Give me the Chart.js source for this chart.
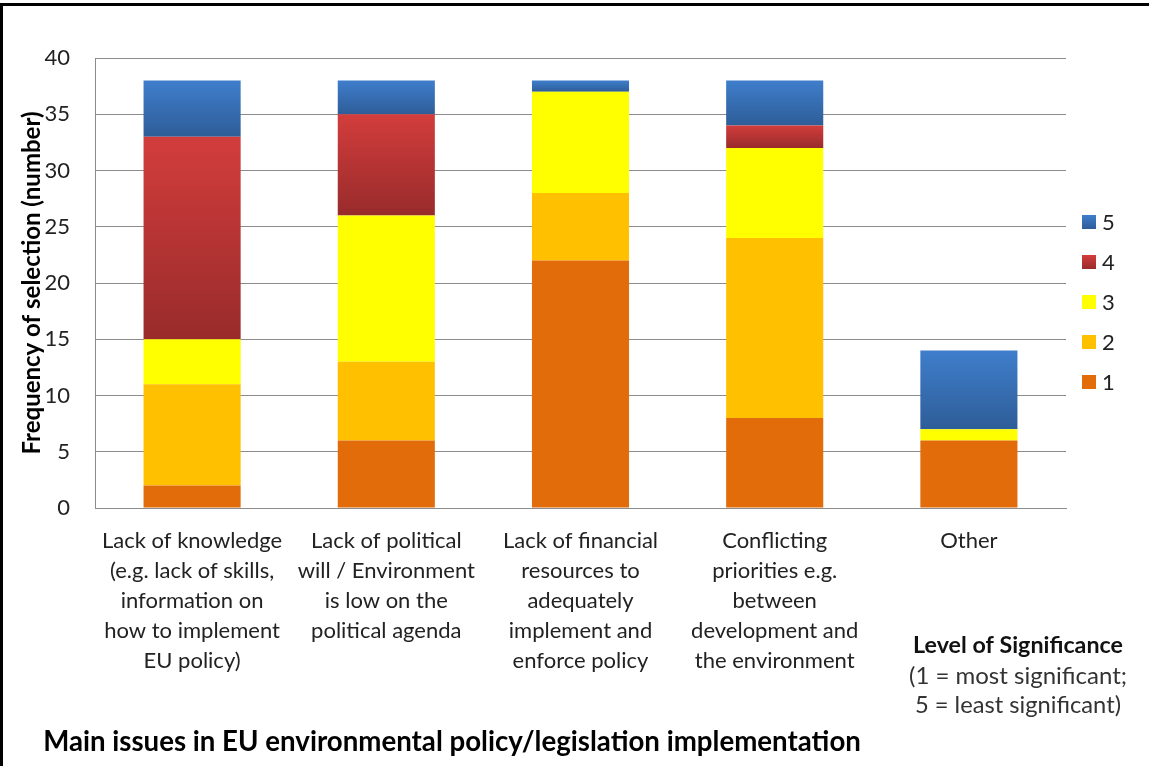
<!DOCTYPE html>
<html><head><meta charset="utf-8">
<script src="https://cdn.jsdelivr.net/npm/chart.js@4"></script>
<style>html,body{margin:0;padding:0;background:#fff;}#wrap{width:1149px;height:766px;position:relative;}</style>
</head><body><div id="wrap"><canvas id="c" width="1149" height="766"></canvas></div>
<script>
const categories = [
  ["Lack of knowledge","(e.g. lack of skills,","information on","how to implement","EU policy)"],
  ["Lack of political","will / Environment","is low on the","political agenda"],
  ["Lack of financial","resources to","adequately","implement and","enforce policy"],
  ["Conflicting","priorities e.g.","between","development and","the environment"],
  ["Other"]
];
const level1 = [2, 6, 22, 8, 6];
const level2 = [9, 7, 6, 16, 0];
const level3 = [4, 13, 9, 8, 1];
const level4 = [18, 9, 0, 2, 0];
const level5 = [5, 3, 1, 4, 7];
const seriesNames = ["1","2","3","4","5"];
const yTicks = [0,5,10,15,20,25,30,35,40];
const xTitle = "Main issues in EU environmental policy/legislation implementation";
const yTitle = "Frequency of selection (number)";
const noteLines = ["Level of Significance","(1 = most significant;","5 = least significant)"];

const FONT = "Lato, 'Open Sans', sans-serif";
const colors = ["#E36C0A","#FFC000","#FFFF00","#C0393B","#3A6FB5"];
const grads = {3:["#D23D3C","#992B2B"],4:["#3F7ECC","#2E5D98"]};

const gradPlugin = {
  id:'grad',
  beforeDatasetsDraw(chart){
    const ctx = chart.ctx;
    Object.keys(grads).forEach(k=>{
      const meta = chart.getDatasetMeta(+k);
      meta.data.forEach(el=>{
        const top = Math.min(el.y, el.base), bot = Math.max(el.y, el.base);
        if (bot - top < 0.5) return;
        const g = ctx.createLinearGradient(0, top, 0, bot);
        g.addColorStop(0, grads[k][0]); g.addColorStop(1, grads[k][1]);
        el.options = Object.assign({}, el.options, {backgroundColor:g});
      });
    });
  }
};

function fitText(ctx, text, cx, cy, width, weight){
  ctx.font = weight + " 20px " + FONT;
  const w = ctx.measureText(text).width;
  const size = 20 * width / w;
  ctx.font = weight + " " + size.toFixed(2) + "px " + FONT;
  ctx.fillText(text, cx, cy);
}

const extras = {
  id:'extras',
  afterDraw(chart){
    const ctx = chart.ctx;
    ctx.save();
    ctx.fillStyle = '#000';
    ctx.fillRect(0, 3, 1149, 3);
    ctx.fillRect(0, 3, 3, 763);
    const ds = chart.data.datasets;
    let y = 222;
    for (let i = ds.length-1; i >= 0; i--) {
      ctx.fillStyle = colors[i];
      if (grads[i]) { const g = ctx.createLinearGradient(0,y-7,0,y+7); g.addColorStop(0,grads[i][0]); g.addColorStop(1,grads[i][1]); ctx.fillStyle = g; }
      ctx.fillRect(1082, y-7, 14, 14);
      ctx.fillStyle = '#222';
      ctx.font = "22px " + FONT;
      ctx.textAlign = 'left'; ctx.textBaseline = 'middle';
      ctx.fillText(ds[i].label, 1102, y+1);
      y += 40;
    }
    ctx.textAlign = 'center'; ctx.textBaseline = 'middle';
    ctx.fillStyle = '#111';
    fitText(ctx, noteLines[0], 1018, 645, 210, "bold");
    ctx.fillStyle = '#333';
    fitText(ctx, noteLines[1], 1018, 676, 218, "normal");
    fitText(ctx, noteLines[2], 1018, 705, 206, "normal");
    ctx.fillStyle = '#000';
    fitText(ctx, xTitle, 452, 742, 818, "bold");
    ctx.restore();
  }
};

new Chart(document.getElementById('c'), {
  type:'bar',
  data:{
    labels: categories,
    datasets:[
      {label:seriesNames[0], data:level1, backgroundColor:colors[0]},
      {label:seriesNames[1], data:level2, backgroundColor:colors[1]},
      {label:seriesNames[2], data:level3, backgroundColor:colors[2]},
      {label:seriesNames[3], data:level4, backgroundColor:colors[3]},
      {label:seriesNames[4], data:level5, backgroundColor:colors[4]}
    ]
  },
  options:{
    responsive:false,
    animation:false,
    layout:{padding:{left:18, right:83, top:58, bottom:0}},
    datasets:{bar:{categoryPercentage:0.5, barPercentage:1.0, borderWidth:0}},
    plugins:{legend:{display:false}, tooltip:{enabled:false}},
    scales:{
      x:{
        stacked:true,
        grid:{display:false, drawTicks:false},
        border:{color:'#8c8c8c'},
        ticks:{color:'#222', font:{family:FONT, size:22, lineHeight:1.364}, padding:18, maxRotation:0, autoSkip:false},
        afterFit(s){ s.height = 766 - 508; }
      },
      y:{
        stacked:true, min:0, max:40,
        afterBuildTicks(s){ s.ticks = yTicks.map(v=>({value:v})); },
        grid:{color:'#8c8c8c', drawTicks:false},
        border:{color:'#8c8c8c'},
        ticks:{color:'#222', font:{family:FONT, size:22}, padding:25},
        title:{display:true, text:yTitle, color:'#000', font:{family:FONT, size:24, weight:'bold'}, padding:{top:0,bottom:0}},
        afterFit(s){ s.width = 95 - 18; }
      }
    }
  },
  plugins:[gradPlugin, extras]
});
</script></body></html>
